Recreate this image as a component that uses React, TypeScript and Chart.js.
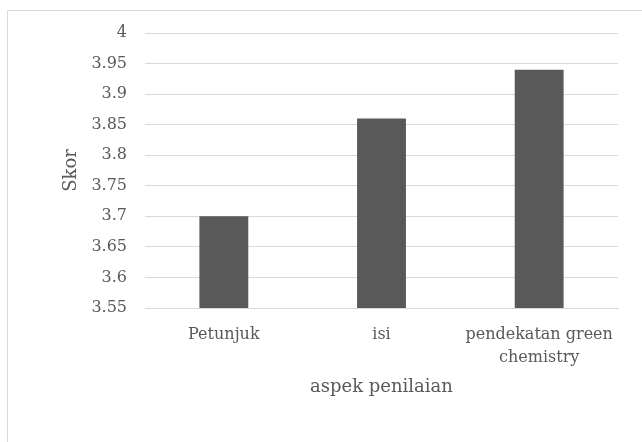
import React, { useEffect, useRef } from "react";
import { Chart, registerables } from "chart.js";

Chart.register(...registerables);

const categories: (string | string[])[] = ["Petunjuk", "isi", ["pendekatan green", "chemistry"]];
const scores: number[] = [3.7, 3.86, 3.94];
const yMin = 3.55;
const yMax = 4;
const yStep = 0.05;
const xTitle = "aspek penilaian";
const yTitle = "Skor";

export default function App() {
  const ref = useRef<HTMLCanvasElement | null>(null);

  useEffect(() => {
    if (!ref.current) return;
    const chart = new Chart(ref.current, {
      type: "bar",
      data: {
        labels: categories,
        datasets: [
          {
            data: scores,
            backgroundColor: "#595959",
            borderWidth: 0,
            categoryPercentage: 1,
            barPercentage: 0.31,
          },
        ],
      },
      options: {
        animation: false,
        responsive: false,
        maintainAspectRatio: false,
        layout: { padding: { left: 0, right: 24, top: 33, bottom: 0 } },
        plugins: { legend: { display: false }, tooltip: { enabled: false } },
        scales: {
          x: {
            grid: { display: false, drawTicks: false },
            border: { display: true, color: "#d9d9d9", width: 1 },
            ticks: {
              color: "#595959",
              padding: 16,
              maxRotation: 0,
              autoSkip: false,
              font: { family: "DejaVu Serif", size: 16, lineHeight: 1.4 },
            },
            title: {
              display: true,
              text: xTitle,
              color: "#595959",
              font: { family: "DejaVu Serif", size: 18, lineHeight: 1.2 },
              padding: { top: 0, bottom: 44 },
            },
            afterFit: (s: any) => {
              s.height = 442 - 308;
            },
          },
          y: {
            min: yMin,
            max: yMax,
            grid: { color: "#d9d9d9", drawTicks: false, lineWidth: 1 },
            border: { display: false },
            ticks: {
              stepSize: yStep,
              color: "#595959",
              padding: 18,
              font: { family: "DejaVu Serif", size: 16 },
              callback: (v: any) => String(Number(Number(v).toFixed(2))),
            },
            title: {
              display: true,
              text: yTitle,
              color: "#595959",
              font: { family: "DejaVu Serif", size: 18, lineHeight: 1.2 },
              padding: { top: 61, bottom: 0 },
            },
            afterFit: (s: any) => {
              s.width = 145;
            },
          },
        },
      },
    });
    return () => chart.destroy();
  }, []);

  return (
    <div style={{ position: "fixed", left: 0, top: 0, width: 642, height: 442, background: "#fff", overflow: "hidden" }}>
      <div
        style={{
          position: "absolute",
          left: 7,
          top: 10,
          width: 700,
          height: 500,
          border: "1px solid #d9d9d9",
          boxSizing: "border-box",
        }}
      />
      <canvas ref={ref} width={642} height={442} style={{ position: "absolute", left: 0, top: 0, width: 642, height: 442 }} />
    </div>
  );
}
